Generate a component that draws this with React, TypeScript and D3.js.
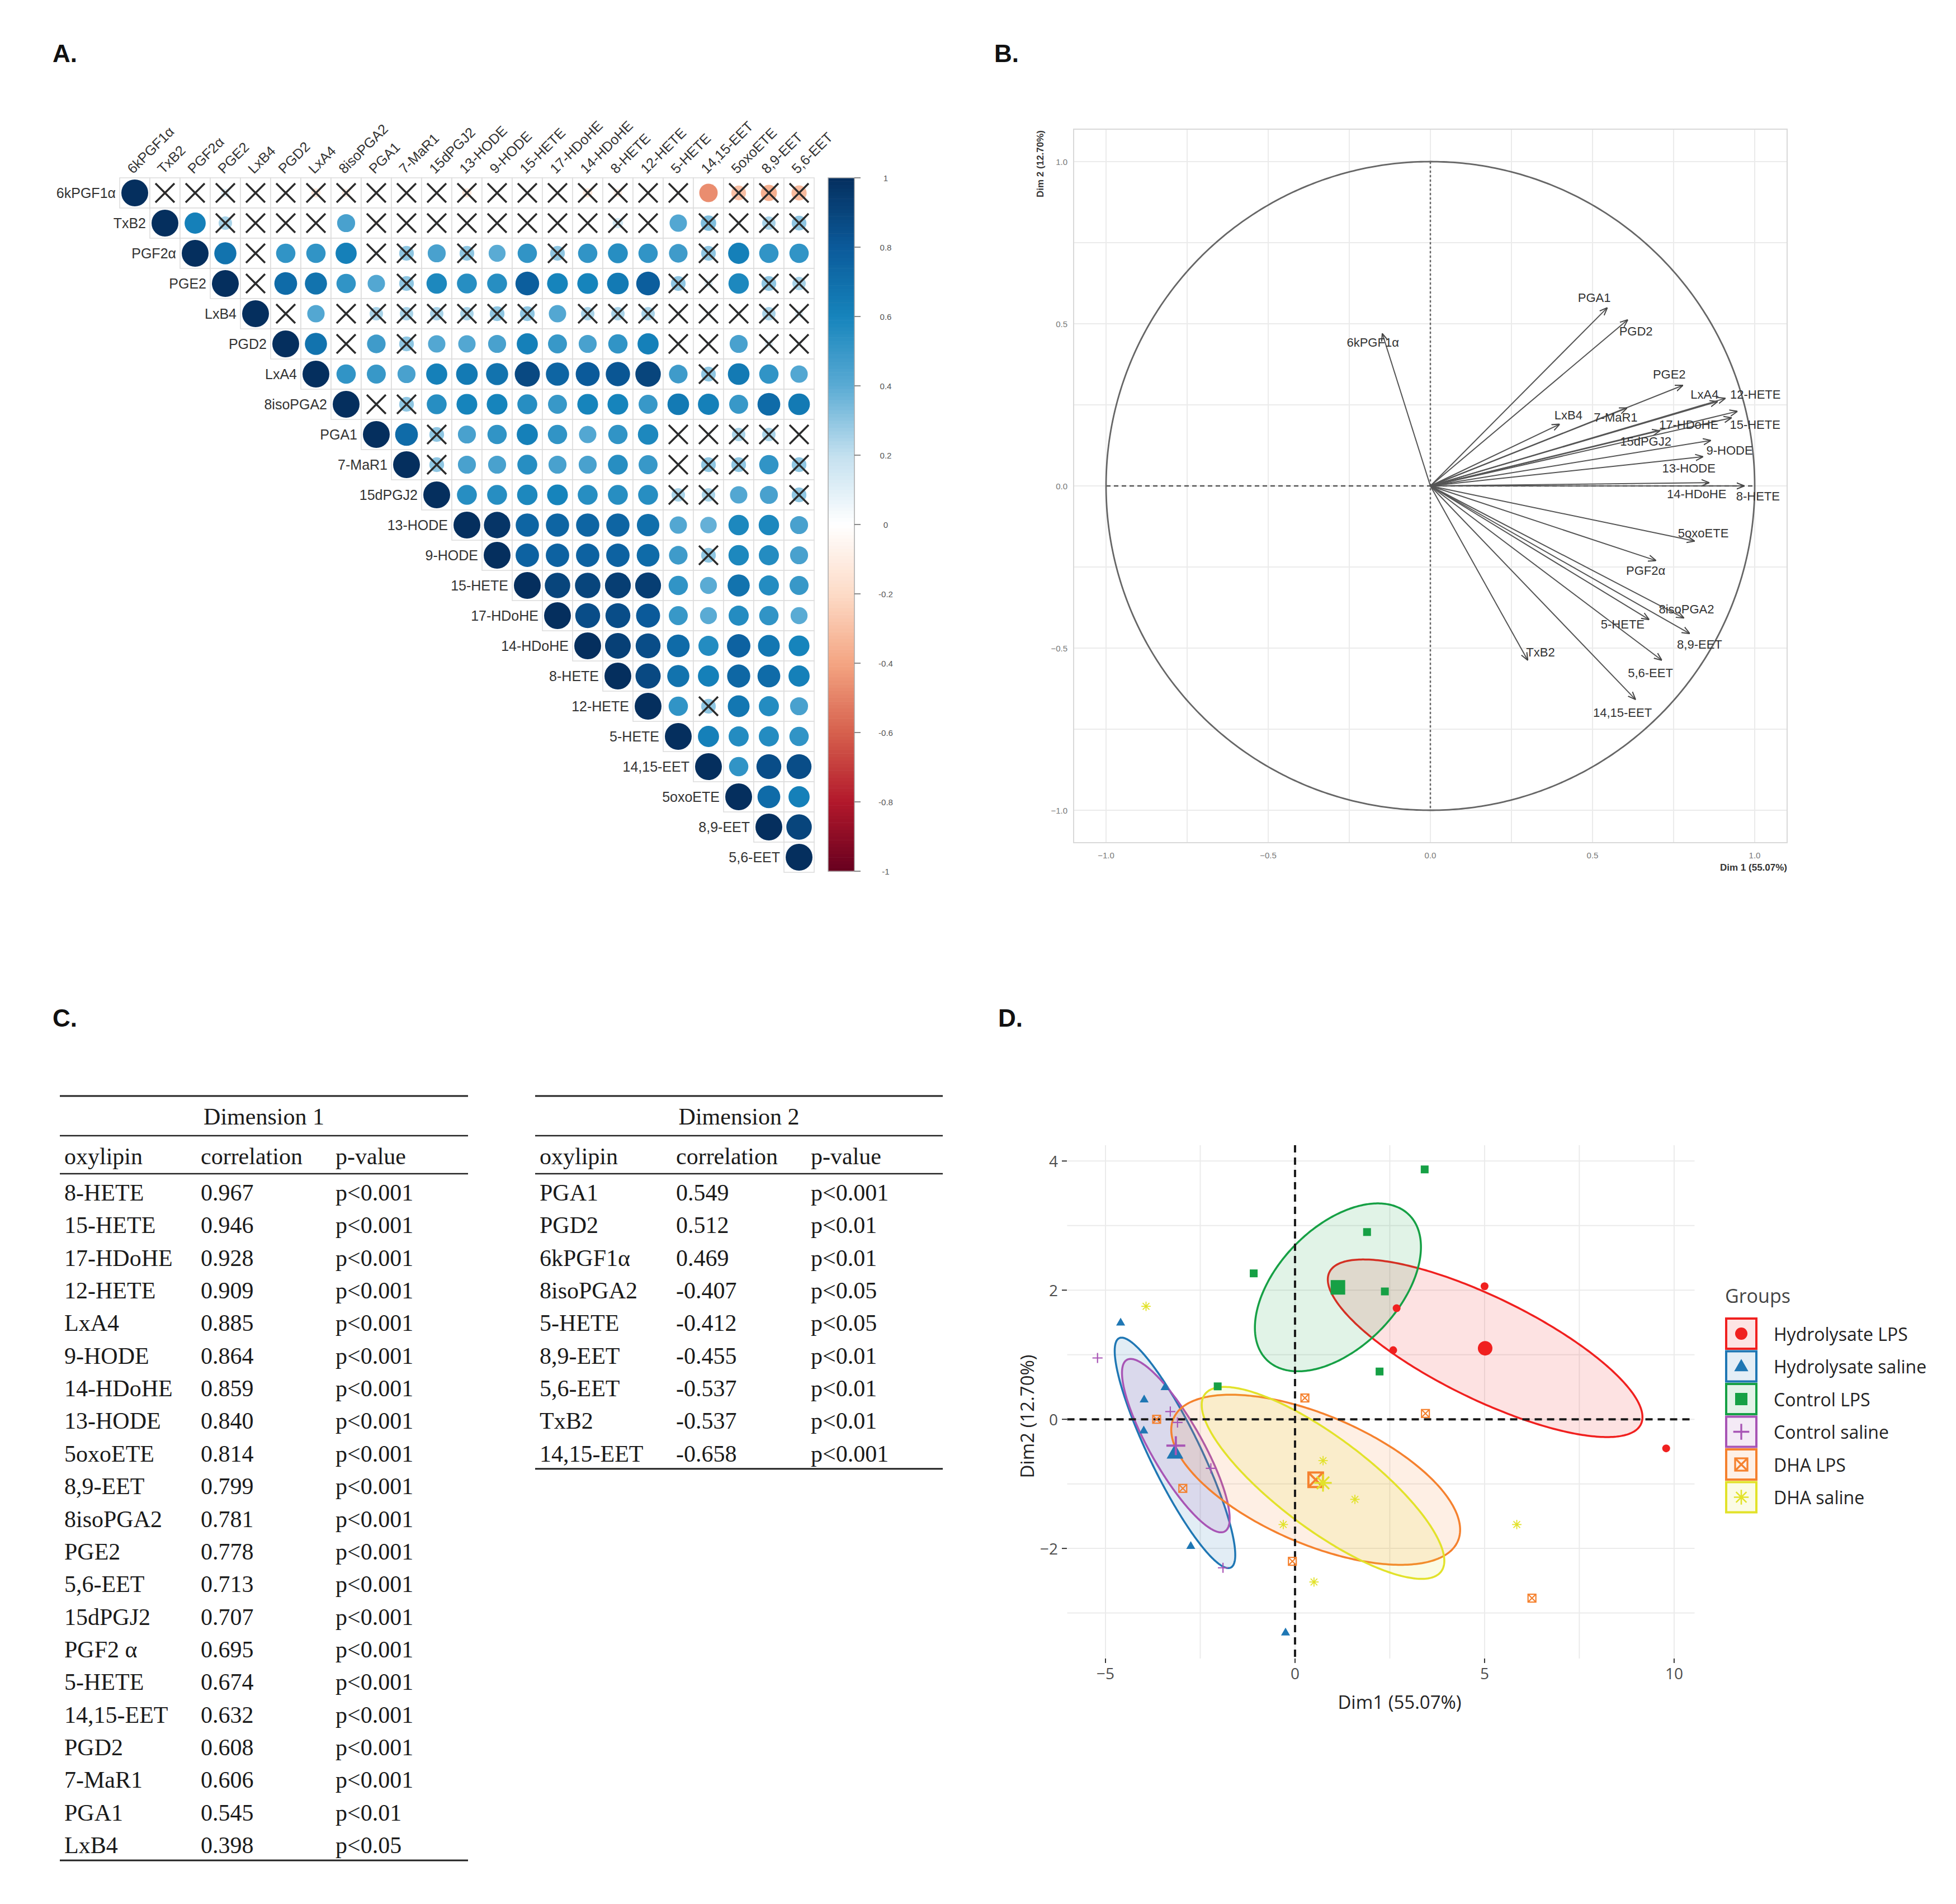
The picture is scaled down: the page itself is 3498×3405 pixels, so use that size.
import * as d3 from "d3";

// ---------- panel A: correlation matrix ----------
const oxylipins = [
  "6kPGF1α", "TxB2", "PGF2α", "PGE2", "LxB4", "PGD2", "LxA4", "8isoPGA2",
  "PGA1", "7-MaR1", "15dPGJ2", "13-HODE", "9-HODE", "15-HETE", "17-HDoHE",
  "14-HDoHE", "8-HETE", "12-HETE", "5-HETE", "14,15-EET", "5oxoETE", "8,9-EET", "5,6-EET",
];

// upper triangle, every row starts at the diagonal
const corrRows = [
  [1, -0.05, 0.05, 0.1, 0.02, 0.03, -0.12, -0.1, 0.04, 0.02, 0.03, -0.12, 0.02, 0.03, 0.02, -0.12, -0.1, 0.02, 0.03, -0.47, -0.3, -0.36, -0.32],
  [1, 0.62, 0.25, 0.03, 0.02, 0.03, 0.45, -0.06, 0.02, 0.05, 0.03, 0.03, 0.02, 0.02, 0.03, 0.15, 0.02, 0.42, 0.33, 0.05, 0.25, 0.3],
  [1, 0.68, 0.05, 0.52, 0.52, 0.62, 0.05, 0.3, 0.45, 0.3, 0.4, 0.52, 0.3, 0.52, 0.55, 0.52, 0.48, 0.3, 0.62, 0.52, 0.52],
  [1, 0.05, 0.72, 0.68, 0.52, 0.42, 0.3, 0.58, 0.55, 0.55, 0.78, 0.6, 0.6, 0.65, 0.78, 0.3, 0.1, 0.58, 0.3, 0.25],
  [1, 0.05, 0.42, 0.05, 0.25, 0.25, 0.25, 0.25, 0.3, 0.3, 0.42, 0.25, 0.25, 0.25, 0.05, 0.05, 0.05, 0.25, 0.1],
  [1, 0.68, 0.05, 0.48, 0.3, 0.42, 0.42, 0.45, 0.62, 0.5, 0.45, 0.52, 0.62, 0.05, 0.05, 0.45, 0.1, 0.05],
  [1, 0.52, 0.5, 0.45, 0.62, 0.65, 0.68, 0.88, 0.75, 0.8, 0.82, 0.9, 0.48, 0.3, 0.65, 0.52, 0.42],
  [1, 0.05, 0.3, 0.55, 0.6, 0.6, 0.55, 0.5, 0.6, 0.6, 0.5, 0.65, 0.62, 0.5, 0.72, 0.65],
  [1, 0.72, 0.3, 0.45, 0.52, 0.62, 0.52, 0.42, 0.52, 0.58, 0.05, 0.05, 0.25, 0.25, 0.05],
  [1, 0.3, 0.45, 0.45, 0.55, 0.45, 0.45, 0.55, 0.5, 0.05, 0.3, 0.3, 0.52, 0.3],
  [1, 0.55, 0.55, 0.58, 0.6, 0.55, 0.55, 0.55, 0.25, 0.25, 0.42, 0.45, 0.3],
  [1, 0.97, 0.75, 0.75, 0.75, 0.75, 0.7, 0.42, 0.38, 0.58, 0.58, 0.45],
  [1, 0.76, 0.76, 0.76, 0.76, 0.72, 0.48, 0.3, 0.58, 0.56, 0.45],
  [1, 0.9, 0.9, 0.93, 0.93, 0.52, 0.4, 0.68, 0.56, 0.5],
  [1, 0.86, 0.86, 0.8, 0.5, 0.4, 0.56, 0.52, 0.4],
  [1, 0.92, 0.86, 0.72, 0.56, 0.76, 0.66, 0.6],
  [1, 0.88, 0.68, 0.62, 0.74, 0.72, 0.62],
  [1, 0.52, 0.3, 0.66, 0.56, 0.45],
  [1, 0.62, 0.56, 0.56, 0.52],
  [1, 0.52, 0.86, 0.86],
  [1, 0.72, 0.62],
  [1, 0.9],
  [1],
];

// "x" = not significant (crossed), same layout as corrRows
const insigRows = [
  ".xxxxxxxxxxxxxxxxxx.xxx",
  "..xxxx.xxxxxxxxxx.xxxx",
  "..x...xx.x..x....x...",
  ".x....x........xx.xx",
  ".x.xxxxxxx.xxxxxxxx",
  "..x.x........xx.xx",
  ".............x...",
  ".xx.............",
  "..x.......xxxxx",
  ".x.......xxx.x",
  "........xx..x",
  "............",
  ".......x...",
  "..........",
  ".........",
  "........",
  ".......",
  "..x...",
  ".....",
  "....",
  "...",
  "..",
  ".",
];

const colorbarTicks = [1, 0.8, 0.6, 0.4, 0.2, 0, -0.2, -0.4, -0.6, -0.8, -1];

// ---------- panel B: variable factor map ----------
const pcaDim1 = [-0.148, 0.3, 0.695, 0.778, 0.398, 0.608, 0.885, 0.781, 0.545, 0.606, 0.707, 0.84, 0.864, 0.946, 0.928, 0.859, 0.967, 0.909, 0.674, 0.632, 0.814, 0.799, 0.713];
const pcaDim2 = [0.469, -0.537, -0.23, 0.31, 0.19, 0.512, 0.26, -0.407, 0.549, 0.24, 0.17, 0.09, 0.14, 0.23, 0.21, 0.01, 0.0, 0.27, -0.412, -0.658, -0.17, -0.455, -0.537];
// label offset from arrow tip, px
const labelNudge: [number, number][] = [
  [-17, 16], [23, -14], [-18, 18], [-24, -20], [16, -16], [15, 20], [-23, -13], [5, -16],
  [-23, -18], [-20, 17], [-25, 19], [-25, 21], [34, 18], [32, 24], [-76, 12], [-22, 20],
  [25, 18], [54, -7], [-47, 9], [-23, 24], [16, -14], [18, 20], [-20, 23],
];

// ---------- panel C: tables ----------
const dim1Names = ["8-HETE", "15-HETE", "17-HDoHE", "12-HETE", "LxA4", "9-HODE", "14-HDoHE", "13-HODE", "5oxoETE", "8,9-EET", "8isoPGA2", "PGE2", "5,6-EET", "15dPGJ2", "PGF2 α", "5-HETE", "14,15-EET", "PGD2", "7-MaR1", "PGA1", "LxB4"];
const dim1Corr = ["0.967", "0.946", "0.928", "0.909", "0.885", "0.864", "0.859", "0.840", "0.814", "0.799", "0.781", "0.778", "0.713", "0.707", "0.695", "0.674", "0.632", "0.608", "0.606", "0.545", "0.398"];
const dim1P = ["p<0.001", "p<0.001", "p<0.001", "p<0.001", "p<0.001", "p<0.001", "p<0.001", "p<0.001", "p<0.001", "p<0.001", "p<0.001", "p<0.001", "p<0.001", "p<0.001", "p<0.001", "p<0.001", "p<0.001", "p<0.001", "p<0.001", "p<0.01", "p<0.05"];
const dim2Names = ["PGA1", "PGD2", "6kPGF1α", "8isoPGA2", "5-HETE", "8,9-EET", "5,6-EET", "TxB2", "14,15-EET"];
const dim2Corr = ["0.549", "0.512", "0.469", "-0.407", "-0.412", "-0.455", "-0.537", "-0.537", "-0.658"];
const dim2P = ["p<0.001", "p<0.01", "p<0.01", "p<0.05", "p<0.05", "p<0.01", "p<0.01", "p<0.01", "p<0.001"];

// ---------- panel D: individuals ----------
const groupNames = ["Hydrolysate LPS", "Hydrolysate saline", "Control LPS", "Control saline", "DHA LPS", "DHA saline"];
const groupColors = ["#F0201F", "#1F77B4", "#16A045", "#A855B5", "#F5812E", "#E2E22A"];
const groupShapes = ["circle", "triangle", "square", "plus", "squarex", "asterisk"];
const groupX = [
  [5.0, 2.68, 2.59, 9.79],
  [-4.6, -3.98, -3.43, -3.99, -2.75, -0.25],
  [3.42, 1.9, -1.09, 2.37, 2.23, -2.04],
  [-5.21, -3.29, -3.1, -2.22, -1.9],
  [-3.65, -2.96, 0.26, 3.44, -0.07, 6.25],
  [-3.93, 0.74, 1.58, -0.31, 0.5, 5.85],
];
const groupY = [
  [2.06, 1.72, 1.07, -0.45],
  [1.5, 0.31, 0.5, -0.17, -1.96, -3.3],
  [3.87, 2.9, 2.26, 1.98, 0.74, 0.51],
  [0.95, 0.12, -0.05, -0.76, -2.3],
  [0.0, -1.07, 0.33, 0.09, -2.2, -2.77],
  [1.75, -0.64, -1.24, -1.63, -2.52, -1.63],
];
// confidence ellipse as two conjugate semi-axes (data units): [ux, uy, vy]
const ellipseAxes = [
  [4.15, -1.065, 0.87],
  [1.59, -1.58, 0.83],
  [2.19, 0.625, 1.14],
  [1.42, -1.127, 0.73],
  [3.81, -0.774, 1.066],
  [3.2, -1.207, 0.867],
];

const corrColor = d3
  .scaleLinear<string>()
  .domain([-1, -0.8, -0.6, -0.4, -0.2, 0, 0.2, 0.4, 0.6, 0.8, 1])
  .range(["#67001F", "#B2182B", "#D6604D", "#F4A582", "#FDDBC7", "#FFFFFF", "#C3E0EF", "#5AABD4", "#1684BC", "#0B5A9A", "#052F5E"])
  .interpolate(d3.interpolateRgb);

const sans = "'Liberation Sans', Arial, sans-serif";
const serif = "'Liberation Serif', 'Times New Roman', serif";
const openSans = "'Open Sans', 'Noto Sans', sans-serif";

function Marker({ shape, x, y, s, color }: { shape: string; x: number; y: number; s: number; color: string }) {
  const sw = Math.max(2.2, s * 0.3);
  if (shape === "circle") return <circle cx={x} cy={y} r={s} fill={color} />;
  if (shape === "triangle")
    return <path d={`M${x},${y - s * 1.2}L${x + s * 1.15},${y + s * 0.8}L${x - s * 1.15},${y + s * 0.8}Z`} fill={color} />;
  if (shape === "square") return <rect x={x - s} y={y - s} width={2 * s} height={2 * s} fill={color} />;
  if (shape === "plus")
    return <path d={`M${x - s * 1.3},${y}H${x + s * 1.3}M${x},${y - s * 1.3}V${y + s * 1.3}`} stroke={color} strokeWidth={sw} fill="none" />;
  if (shape === "squarex")
    return (
      <g stroke={color} strokeWidth={sw} fill="none">
        <rect x={x - s} y={y - s} width={2 * s} height={2 * s} />
        <path d={`M${x - s},${y - s}L${x + s},${y + s}M${x + s},${y - s}L${x - s},${y + s}`} />
      </g>
    );
  const k = s * 0.85;
  return (
    <path
      d={`M${x - s * 1.2},${y}H${x + s * 1.2}M${x},${y - s * 1.2}V${y + s * 1.2}M${x - k},${y - k}L${x + k},${y + k}M${x + k},${y - k}L${x - k},${y + k}`}
      stroke={color}
      strokeWidth={sw * 0.8}
      fill="none"
    />
  );
}

export default function App() {
  // ---- panel A geometry
  const n = oxylipins.length;
  const cell = 54;
  const aLeft = 214;
  const aTop = 318;
  const band = d3.scaleBand<number>().domain(d3.range(n)).range([0, n * cell]);
  const cx = (j: number) => aLeft + band(j)! + cell / 2;
  const cy = (i: number) => aTop + band(i)! + cell / 2;
  const rSize = d3.scaleSqrt().domain([0, 1]).range([0, 24]);
  const cbY = d3.scaleLinear().domain([-1, 1]).range([1558, 318]);
  const cbSteps = d3.range(-1, 1, 0.01);

  const cells: JSX.Element[] = [];
  corrRows.forEach((row, i) => {
    row.forEach((v, k) => {
      const j = i + k;
      const x = cx(j);
      const y = cy(i);
      cells.push(
        <g key={`c${i}-${j}`}>
          <rect x={x - cell / 2} y={y - cell / 2} width={cell} height={cell} fill="#fff" stroke="#DCDCDC" strokeWidth={1.5} />
          <circle cx={x} cy={y} r={rSize(Math.abs(v))} fill={corrColor(v)} />
          {insigRows[i][k] === "x" && (
            <path d={`M${x - 17},${y - 17}L${x + 17},${y + 17}M${x + 17},${y - 17}L${x - 17},${y + 17}`} stroke="#2b2b2b" strokeWidth={3.5} />
          )}
        </g>
      );
    });
  });

  // ---- panel B geometry
  const bx = d3.scaleLinear().domain([-1.1, 1.1]).range([1920, 3196]);
  const by = d3.scaleLinear().domain([-1.1, 1.1]).range([1507, 231]);
  const bGrid = d3.range(-1, 1.01, 0.25);
  const bTicks = [-1, -0.5, 0, 0.5, 1];
  const circleLine = d3
    .line<number>()
    .x((t) => bx(Math.cos(t)))
    .y((t) => by(Math.sin(t)))
    .curve(d3.curveLinearClosed);
  const fmt1 = d3.format(".1f");

  // ---- panel C geometry
  const rowsY1 = d3.scaleLinear().domain([0, 1]).range([2133, 2133 + 58.35]);

  // ---- panel D geometry
  const dx = d3.scaleLinear().domain([-6.01, 10.54]).range([1908.5, 3030.5]);
  const dy = d3.scaleLinear().domain([-3.705, 4.245]).range([2966, 2048]);
  const dGridX = d3.range(-5, 10.1, 2.5);
  const dGridY = d3.range(-3, 4.1, 1);
  const dTicksX = [-5, 0, 5, 10];
  const dTicksY = [-2, 0, 2, 4];
  const angles = d3.range(0, 2 * Math.PI, 0.02);
  const means = groupX.map((xs, g) => [d3.mean(xs)!, d3.mean(groupY[g])!]);
  const ellipsePath = (g: number) => {
    const [ux, uy, vy] = ellipseAxes[g];
    const [mx, my] = means[g];
    return d3
      .line<number>()
      .x((t) => dx(mx + ux * Math.cos(t)))
      .y((t) => dy(my + uy * Math.cos(t) + vy * Math.sin(t)))
      .curve(d3.curveLinearClosed)(angles)!;
  };

  const tableCols = (left: number) => [left + 8, left + 252, left + 493];

  const renderTable = (
    left: number,
    right: number,
    title: string,
    names: string[],
    corrs: string[],
    ps: string[]
  ) => {
    const cols = tableCols(left);
    const lastY = rowsY1(names.length - 1);
    return (
      <g fontFamily={serif} fontSize={42} fill="#1a1a1a">
        <line x1={left} x2={right} y1={1960} y2={1960} stroke="#222" strokeWidth={3} />
        <text x={(left + right) / 2} y={1997} textAnchor="middle" dominantBaseline="central">{title}</text>
        <line x1={left} x2={right} y1={2031} y2={2031} stroke="#222" strokeWidth={2.5} />
        <text x={cols[0]} y={2068} dominantBaseline="central">oxylipin</text>
        <text x={cols[1]} y={2068} dominantBaseline="central">correlation</text>
        <text x={cols[2]} y={2068} dominantBaseline="central">p-value</text>
        <line x1={left} x2={right} y1={2099} y2={2099} stroke="#222" strokeWidth={2.5} />
        {names.map((nm, i) => (
          <g key={nm + i}>
            <text x={cols[0]} y={rowsY1(i)} dominantBaseline="central">{nm}</text>
            <text x={cols[1]} y={rowsY1(i)} dominantBaseline="central">{corrs[i]}</text>
            <text x={cols[2]} y={rowsY1(i)} dominantBaseline="central">{ps[i]}</text>
          </g>
        ))}
        <line x1={left} x2={right} y1={lastY + 27} y2={lastY + 27} stroke="#222" strokeWidth={3} />
      </g>
    );
  };

  return (
    <svg
      width={3498}
      height={3405}
      viewBox="0 0 3498 3405"
      style={{ position: "absolute", left: 0, top: 0, background: "#fff", display: "block" }}
    >
      <defs>
        <marker id="arrowHead" viewBox="0 0 10 10" refX={9.5} refY={5} markerWidth={14} markerHeight={14} markerUnits="userSpaceOnUse" orient="auto">
          <path d="M0,1 L10,5 L0,9" fill="none" stroke="#444" strokeWidth={1.4} />
        </marker>
      </defs>
      <rect width={3498} height={3405} fill="#fff" />

      {/* panel letters */}
      <g fontFamily={sans} fontWeight="bold" fontSize={44} fill="#111">
        <text x={94} y={111}>A.</text>
        <text x={1778} y={111}>B.</text>
        <text x={94} y={1836}>C.</text>
        <text x={1785} y={1836}>D.</text>
      </g>

      {/* ---------- A ---------- */}
      <g>{cells}</g>
      <g fontFamily={sans} fontSize={25} fill="#333">
        {oxylipins.map((name, i) => (
          <text key={"r" + name} x={cx(i) - cell / 2 - 7} y={cy(i)} textAnchor="end" dominantBaseline="central">
            {name}
          </text>
        ))}
        {oxylipins.map((name, j) => (
          <text key={"h" + name} transform={`translate(${cx(j) - 3},${aTop - 6}) rotate(-45)`}>
            {name}
          </text>
        ))}
      </g>
      <g>
        {cbSteps.map((v) => (
          <rect key={"cb" + v} x={1481} y={cbY(v + 0.01)} width={47} height={cbY(v) - cbY(v + 0.01) + 0.6} fill={corrColor(v + 0.005)} />
        ))}
        <rect x={1481} y={318} width={47} height={1240} fill="none" stroke="#aaa" strokeWidth={1.5} />
        {colorbarTicks.map((t) => (
          <g key={"cbt" + t}>
            <line x1={1528} x2={1539} y1={cbY(t)} y2={cbY(t)} stroke="#666" strokeWidth={1.5} />
            <text x={1584} y={cbY(t)} textAnchor="middle" dominantBaseline="central" fontFamily={sans} fontSize={15} fill="#555">
              {t}
            </text>
          </g>
        ))}
      </g>

      {/* ---------- B ---------- */}
      <g>
        {bGrid.map((g) => (
          <g key={"bg" + g}>
            <line x1={bx(g)} x2={bx(g)} y1={by(1.1)} y2={by(-1.1)} stroke="#EBEBEB" strokeWidth={2} />
            <line x1={bx(-1.1)} x2={bx(1.1)} y1={by(g)} y2={by(g)} stroke="#EBEBEB" strokeWidth={2} />
          </g>
        ))}
        <rect x={bx(-1.1)} y={by(1.1)} width={bx(1.1) - bx(-1.1)} height={by(-1.1) - by(1.1)} fill="none" stroke="#D9D9D9" strokeWidth={2} />
        <line x1={bx(0)} x2={bx(0)} y1={by(1)} y2={by(-1)} stroke="#666" strokeWidth={2.5} strokeDasharray="4,4" />
        <line x1={bx(-1)} x2={bx(1)} y1={by(0)} y2={by(0)} stroke="#555" strokeWidth={2.5} strokeDasharray="8,6" />
        <path d={circleLine(d3.range(0, 2 * Math.PI, 0.01))!} fill="none" stroke="#666" strokeWidth={2.8} />
        {oxylipins.map((name, i) => (
          <line
            key={"ar" + name}
            x1={bx(0)}
            y1={by(0)}
            x2={bx(pcaDim1[i])}
            y2={by(pcaDim2[i])}
            stroke="#555"
            strokeWidth={2}
            markerEnd="url(#arrowHead)"
          />
        ))}
        <g fontFamily={sans} fontSize={22} fill="#333">
          {oxylipins.map((name, i) => (
            <text
              key={"al" + name}
              x={bx(pcaDim1[i]) + labelNudge[i][0]}
              y={by(pcaDim2[i]) + labelNudge[i][1]}
              textAnchor="middle"
              dominantBaseline="central"
            >
              {name}
            </text>
          ))}
        </g>
        <g fontFamily={sans} fontSize={15} fill="#777">
          {bTicks.map((t) => (
            <text key={"bxt" + t} x={bx(t)} y={1529} textAnchor="middle" dominantBaseline="central">
              {fmt1(t)}
            </text>
          ))}
          {bTicks.map((t) => (
            <text key={"byt" + t} x={1909} y={by(t)} textAnchor="end" dominantBaseline="central">
              {fmt1(t)}
            </text>
          ))}
        </g>
        <text x={3196} y={1557} textAnchor="end" fontFamily={sans} fontSize={17} fontWeight="bold" fill="#333">
          Dim 1 (55.07%)
        </text>
        <text transform="translate(1866,233) rotate(-90)" textAnchor="end" fontFamily={sans} fontSize={17} fontWeight="bold" fill="#333">
          Dim 2 (12.70%)
        </text>
      </g>

      {/* ---------- C ---------- */}
      {renderTable(107, 837, "Dimension 1", dim1Names, dim1Corr, dim1P)}
      {renderTable(957, 1686, "Dimension 2", dim2Names, dim2Corr, dim2P)}

      {/* ---------- D ---------- */}
      <g>
        {dGridX.map((g) => (
          <line key={"dgx" + g} x1={dx(g)} x2={dx(g)} y1={dy(4.245)} y2={dy(-3.705)} stroke="#EBEBEB" strokeWidth={2} />
        ))}
        {dGridY.map((g) => (
          <line key={"dgy" + g} x1={dx(-6.01)} x2={dx(10.54)} y1={dy(g)} y2={dy(g)} stroke="#EBEBEB" strokeWidth={2} />
        ))}
        {groupNames.map((g, i) => (
          <path key={"el" + g} d={ellipsePath(i)} fill={groupColors[i]} fillOpacity={0.13} stroke={groupColors[i]} strokeWidth={3.5} />
        ))}
        <line x1={dx(0)} x2={dx(0)} y1={dy(4.245)} y2={dy(-3.705)} stroke="#1a1a1a" strokeWidth={4} strokeDasharray="13,9" />
        <line x1={dx(-6.01)} x2={dx(10.54)} y1={dy(0)} y2={dy(0)} stroke="#1a1a1a" strokeWidth={4} strokeDasharray="13,9" />
        {groupNames.map((g, gi) =>
          groupX[gi].map((xv, k) => (
            <Marker key={`pt${gi}-${k}`} shape={groupShapes[gi]} x={dx(xv)} y={dy(groupY[gi][k])} s={7} color={groupColors[gi]} />
          ))
        )}
        {groupNames.map((g, gi) => (
          <Marker key={"mean" + g} shape={groupShapes[gi]} x={dx(means[gi][0])} y={dy(means[gi][1])} s={13} color={groupColors[gi]} />
        ))}
        <g fontFamily={openSans} fontSize={28} fill="#4D4D4D">
          {dTicksX.map((t) => (
            <g key={"dxt" + t}>
              <line x1={dx(t)} x2={dx(t)} y1={2966} y2={2974} stroke="#333" strokeWidth={2} />
              <text x={dx(t)} y={2992} textAnchor="middle" dominantBaseline="central">
                {d3.format("d")(t)}
              </text>
            </g>
          ))}
          {dTicksY.map((t) => (
            <g key={"dyt" + t}>
              <line x1={1899} x2={1908} y1={dy(t)} y2={dy(t)} stroke="#333" strokeWidth={2} />
              <text x={1892} y={dy(t)} textAnchor="end" dominantBaseline="central">
                {d3.format("d")(t)}
              </text>
            </g>
          ))}
        </g>
        <text x={2503} y={3043} textAnchor="middle" dominantBaseline="central" fontFamily={openSans} fontSize={33} fill="#222">
          Dim1 (55.07%)
        </text>
        <text transform="translate(1836,2533) rotate(-90)" textAnchor="middle" dominantBaseline="central" fontFamily={openSans} fontSize={33} fill="#222">
          Dim2 (12.70%)
        </text>
        {/* legend */}
        <text x={3085} y={2330} fontFamily={openSans} fontSize={34} fill="#444">
          Groups
        </text>
        {groupNames.map((g, gi) => {
          const top = 2358 + gi * 58.5;
          return (
            <g key={"lg" + g}>
              <rect x={3087} y={top} width={54} height={54} fill="#fff" />
              <rect x={3087} y={top} width={54} height={54} fill={groupColors[gi]} fillOpacity={0.12} stroke={groupColors[gi]} strokeWidth={4} />
              <Marker shape={groupShapes[gi]} x={3114} y={top + 27} s={11} color={groupColors[gi]} />
              <text x={3172} y={top + 27} dominantBaseline="central" fontFamily={openSans} fontSize={32} fill="#222">
                {g}
              </text>
            </g>
          );
        })}
      </g>
    </svg>
  );
}
